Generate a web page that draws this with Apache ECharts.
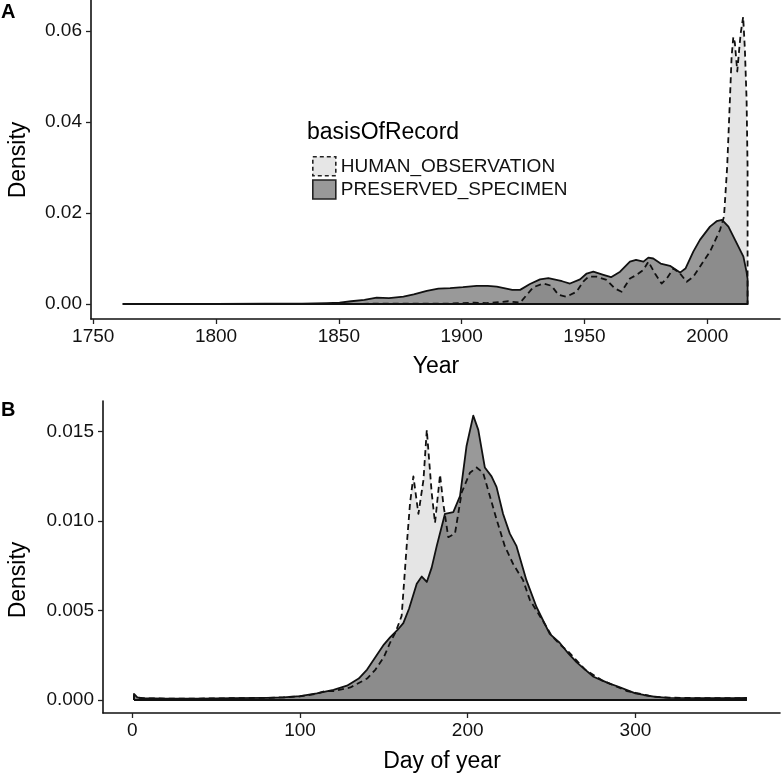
<!DOCTYPE html>
<html><head><meta charset="utf-8">
<script src="https://cdn.jsdelivr.net/npm/echarts@6/dist/echarts.min.js"></script>
<style>html,body{margin:0;padding:0;background:#fff}#c{width:781px;height:776px}</style>
</head><body><div id="c"></div>
<script>
// ---------- Panel A : Year ----------
const yearHO = [1762, 1800, 1850, 1880, 1895, 1900, 1905, 1910, 1915, 1919,
  1922, 1923.8, 1926.5, 1929.2, 1933.3, 1936.6, 1939.4, 1942.7, 1946.8, 1949.5,
  1951.6, 1955.0, 1959.0, 1962.4, 1965.1, 1968.5, 1971.2, 1974.0, 1976.0, 1978.7,
  1981.4, 1983.5, 1986.2, 1988.9, 1991.6, 1994.3, 1997.0, 2001.1, 2005.2, 2006.8,
  2008.1, 2009.2, 2009.9, 2010.6, 2011.2, 2012.2, 2013.0, 2013.6, 2014.6, 2015.3,
  2016.0, 2016.4];
const densHO_A = [0.00001, 0.00001, 0.00002, 0.0001, 0.0001, 0.0002, 0.0003, 0.0002, 0.0004, 0.0006,
  0.0004, 0.0003, 0.0020, 0.0037, 0.0045, 0.0040, 0.0020, 0.0016, 0.0027, 0.0049,
  0.0060, 0.0060, 0.0053, 0.0034, 0.0027, 0.0056, 0.0064, 0.0075, 0.0093, 0.0067,
  0.0045, 0.0056, 0.0078, 0.0067, 0.0049, 0.0060, 0.0082, 0.0115, 0.0163, 0.0192,
  0.0302, 0.0448, 0.0544, 0.0587, 0.0575, 0.0511, 0.0560, 0.0595, 0.0631, 0.0560,
  0.0448, 0.0300];
const yearPS = [1762, 1800, 1820, 1835, 1845, 1850.3, 1855, 1860.4, 1865.4, 1870.4,
  1876.3, 1880.5, 1885.8, 1890.5, 1895.3, 1900.5, 1906.1, 1910.6, 1914.3, 1920.6,
  1923.8, 1927.8, 1931.9, 1935.3, 1940.9, 1944.1, 1948.2, 1950.9, 1953.6, 1957.7,
  1960.8, 1964.5, 1968.5, 1971.0, 1974.0, 1976.0, 1978.0, 1981.0, 1984.8, 1988.9,
  1991.1, 1994.3, 1997.0, 2001.1, 2003.8, 2006.0, 2008.6, 2011.3, 2014.7, 2016.0,
  2016.4];
const densPS_A = [0.00003, 0.00003, 0.00005, 0.0001, 0.0002, 0.0003, 0.0006, 0.0009, 0.0014, 0.0013,
  0.0016, 0.0021, 0.0029, 0.0034, 0.0035, 0.0037, 0.0040, 0.0040, 0.0038, 0.0031,
  0.0031, 0.0044, 0.0054, 0.0057, 0.0050, 0.0045, 0.0054, 0.0067, 0.0071, 0.0064,
  0.0059, 0.0071, 0.0093, 0.0097, 0.0093, 0.0102, 0.0100, 0.0089, 0.0084, 0.0069,
  0.0078, 0.0115, 0.0141, 0.0170, 0.0182, 0.0185, 0.0170, 0.0141, 0.0104, 0.0070,
  0.0055];

// ---------- Panel B : Day of year ----------
const dayHO = [1, 3, 6, 20, 40, 60, 80, 90, 100, 110,
  115, 120, 130, 140, 145, 150, 153.7, 157, 160.6, 163.6,
  165.6, 167.6, 170.6, 173.6, 175.6, 178.5, 180.5, 183.5, 185.4, 188.4,
  192.4, 196.4, 201.3, 205.3, 209.2, 213.2, 217.2, 222.1, 227.1, 233.0,
  237.0, 241.0, 246.9, 250, 255, 260, 265, 270, 275, 280,
  285, 290, 295, 300, 310, 320, 340, 360, 366];
const densHO_B = [0.00025, 0.00012, 0.0001, 0.00008, 0.00008, 0.0001, 0.00012, 0.00015, 0.0002, 0.00035,
  0.0005, 0.0005, 0.0007, 0.0012, 0.0017, 0.0024, 0.0032, 0.0038, 0.0047, 0.0086,
  0.0110, 0.0125, 0.0104, 0.0123, 0.0151, 0.0116, 0.0099, 0.0126, 0.0110, 0.0091,
  0.0093, 0.0116, 0.0127, 0.0130, 0.0127, 0.0114, 0.0101, 0.0086, 0.0076, 0.0067,
  0.0056, 0.0050, 0.0041, 0.0036, 0.0031, 0.0027, 0.0022, 0.0017, 0.0014, 0.0011,
  0.0009, 0.0007, 0.0005, 0.0004, 0.0002, 0.00013, 0.0001, 0.0001, 0.00012];
const dayPS = [1, 3, 6, 20, 40, 60, 80, 90, 100, 110,
  120, 128, 135, 140, 145, 150, 153.7, 158, 161.6, 165,
  169.6, 172.6, 175.6, 178.5, 181.5, 186.4, 191.4, 195.4, 199.3, 203.3,
  206.3, 210.2, 214.2, 217.2, 221.1, 225.1, 229.1, 235, 241, 248.9,
  254.8, 260, 265, 270, 275, 280, 285, 290, 295, 300,
  305, 312, 320, 340, 360, 366];
const densPS_B = [0.00034, 0.00015, 0.0001, 0.00008, 0.00008, 0.0001, 0.00012, 0.00015, 0.00022, 0.00037,
  0.00056, 0.0008, 0.0012, 0.0017, 0.0024, 0.0031, 0.0035, 0.0039, 0.0043, 0.0051,
  0.0065, 0.0069, 0.0066, 0.0074, 0.0086, 0.0104, 0.0105, 0.0114, 0.0142, 0.0159,
  0.0151, 0.0130, 0.0125, 0.0119, 0.0104, 0.0093, 0.0086, 0.0067, 0.0052, 0.0037,
  0.0032, 0.0026, 0.0021, 0.0017, 0.0013, 0.0011, 0.0009, 0.00074, 0.00055, 0.00037,
  0.00028, 0.00018, 0.00012, 0.0001, 0.0001, 0.00012];

// ---------- Ticks & labels ----------
const yearTicks = [1750, 1800, 1850, 1900, 1950, 2000];
const densTicksA = [0, 0.02, 0.04, 0.06];
const dayTicks = [0, 100, 200, 300];
const densTicksB = [0, 0.005, 0.010, 0.015];
const groups = ['HUMAN_OBSERVATION', 'PRESERVED_SPECIMEN'];
const legendTitle = 'basisOfRecord';

const FONT = '"Liberation Sans", Arial, Helvetica, sans-serif';

// closed outline: start at baseline, follow curve, drop to baseline, return along baseline
function closed(xs, ys) {
  const pts = xs.map((x, i) => [x, ys[i]]);
  const x0 = xs[0], xN = xs[xs.length - 1];
  return [[x0, 0]].concat(pts, [[xN, 0], [x0, 0]]);
}

function xAxis(idx, min, max, ticks, fmt) {
  return {
    type: 'value', gridIndex: idx, min: min, max: max,
    splitLine: { show: false },
    axisLine: { show: true, onZero: false, lineStyle: { color: '#111', width: 1.6 } },
    axisTick: { show: true, length: 5, customValues: ticks, lineStyle: { color: '#222', width: 1.3 } },
    axisLabel: { show: true, customValues: ticks, formatter: fmt, margin: 8,
      fontSize: 19, fontFamily: FONT, color: '#111' }
  };
}
function yAxis(idx, min, max, ticks, fmt) {
  return {
    type: 'value', gridIndex: idx, min: min, max: max,
    splitLine: { show: false },
    axisLine: { show: true, onZero: false, lineStyle: { color: '#111', width: 1.6 } },
    axisTick: { show: true, length: 5, customValues: ticks, lineStyle: { color: '#222', width: 1.3 } },
    axisLabel: { show: true, customValues: ticks, formatter: fmt, margin: 9,
      fontSize: 19, fontFamily: FONT, color: '#111' }
  };
}

function series(name, idx, xs, ys, dashed) {
  const light = name === groups[0];
  return {
    name: name, type: 'line', xAxisIndex: idx, yAxisIndex: idx,
    data: closed(xs, ys), showSymbol: false, symbol: 'none', smooth: false,
    lineStyle: { color: '#111', width: 1.8, type: dashed ? [6, 4] : 'solid', join: 'round' },
    itemStyle: { color: light ? '#e6e6e6' : '#999999' },
    areaStyle: { color: light ? '#cccccc' : '#333333', opacity: 0.5 },
    silent: true, animation: false
  };
}

const chart = echarts.init(document.getElementById('c'), null, { renderer: 'canvas' });
chart.setOption({
  backgroundColor: '#ffffff',
  animation: false,
  grid: [
    { left: 91, top: 0, right: 1, height: 319 },
    { left: 103, top: 401, right: 1, height: 312 }
  ],
  xAxis: [
    xAxis(0, 1749.1, 2029.6, yearTicks, v => String(v)),
    xAxis(1, -17.47, 386.2, dayTicks, v => String(v))
  ],
  yAxis: [
    yAxis(0, -0.003297, 0.06681, densTicksA, v => v.toFixed(2)),
    yAxis(1, -0.000727, 0.016715, densTicksB, v => v.toFixed(3))
  ],
  legend: {
    left: 307, top: 151, orient: 'vertical', itemWidth: 23, itemHeight: 19, itemGap: 2.6,
    selectedMode: false,
    textStyle: { fontSize: 19, fontFamily: FONT, color: '#111', lineHeight: 19 },
    data: [
      { name: groups[0], icon: 'rect',
        itemStyle: { color: '#e6e6e6', borderColor: '#222', borderWidth: 1.6, borderType: [4, 3] } },
      { name: groups[1], icon: 'rect',
        itemStyle: { color: '#999999', borderColor: '#222', borderWidth: 1.6, borderType: 'solid' } }
    ]
  },
  graphic: [
    { type: 'text', left: 1, top: 2, style: { text: 'A', font: 'bold 20px ' + FONT, fill: '#000' } },
    { type: 'text', left: 1, top: 400, style: { text: 'B', font: 'bold 20px ' + FONT, fill: '#000' } },
    { type: 'text', x: 19, y: 160, rotation: Math.PI / 2,
      style: { text: 'Density', font: '23px ' + FONT, fill: '#000', align: 'center', verticalAlign: 'middle' } },
    { type: 'text', x: 19, y: 580, rotation: Math.PI / 2,
      style: { text: 'Density', font: '23px ' + FONT, fill: '#000', align: 'center', verticalAlign: 'middle' } },
    { type: 'text', x: 436, y: 367,
      style: { text: 'Year', font: '23px ' + FONT, fill: '#000', align: 'center', verticalAlign: 'middle' } },
    { type: 'text', x: 442, y: 762,
      style: { text: 'Day of year', font: '23px ' + FONT, fill: '#000', align: 'center', verticalAlign: 'middle' } },
    { type: 'text', x: 307, y: 133,
      style: { text: legendTitle, font: '23px ' + FONT, fill: '#000', align: 'left', verticalAlign: 'middle' } }
  ],
  series: [
    series(groups[0], 0, yearHO, densHO_A, true),
    series(groups[1], 0, yearPS, densPS_A, false),
    series(groups[0], 1, dayHO, densHO_B, true),
    series(groups[1], 1, dayPS, densPS_B, false)
  ]
});
</script>
</body></html>
